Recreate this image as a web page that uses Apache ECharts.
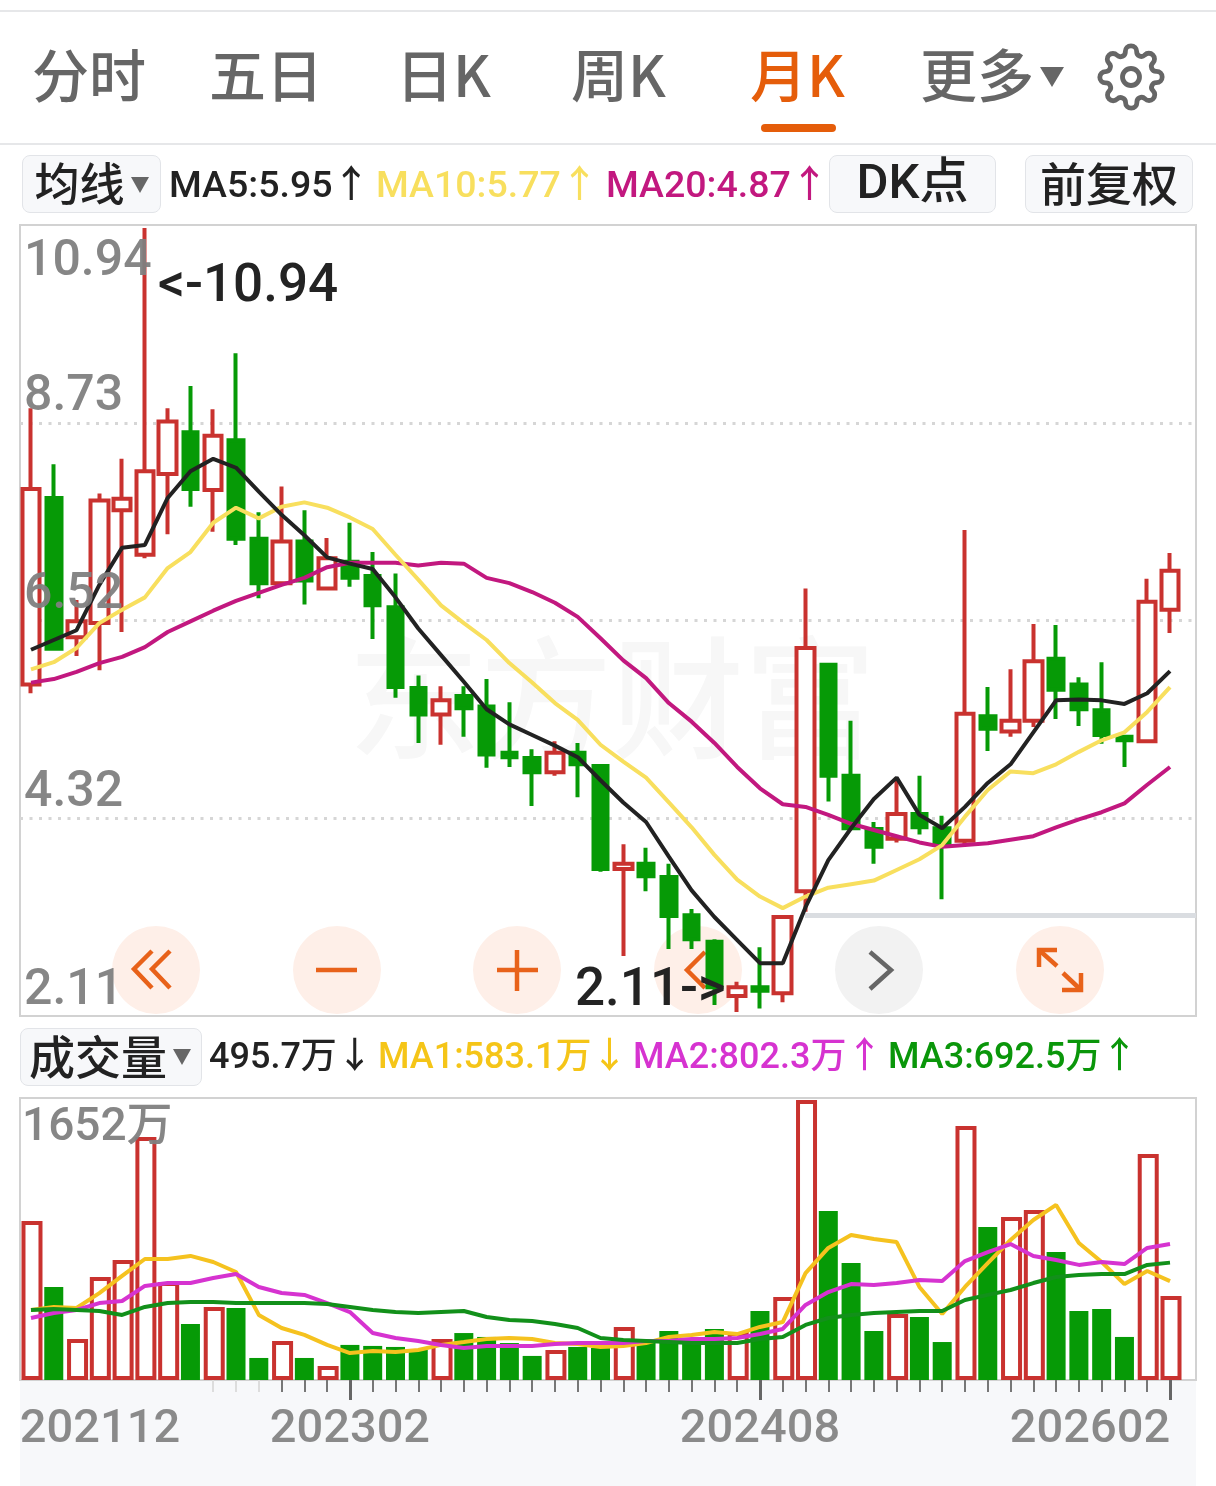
<!DOCTYPE html>
<html lang="zh">
<head>
<meta charset="utf-8">
<title>月K</title>
<script src="https://cdn.jsdelivr.net/npm/echarts@6/dist/echarts.min.js"></script>
<style>
html, body { margin: 0; padding: 0; background: #fff; }
#page { position: relative; width: 1216px; height: 1486px; overflow: hidden;
    font-family: Roboto, 'Noto Sans CJK SC', sans-serif; }
#chart { position: absolute; left: 0; top: 0; width: 1216px; height: 1486px; }
.strip { position: absolute; left: 20px; top: 1380px; width: 1176px; height: 106px; background: #f7f8fa; }
.rule { position: absolute; left: 0; width: 1216px; height: 2px; background: #e6e7e9; }
.tab { position: absolute; top: 36px; line-height: 72px; font-size: 57px; font-weight: 500; color: #666;
    font-family: 'Noto Sans CJK SC', sans-serif; white-space: nowrap; }
.tab.on { color: #e55d0a; }
.underline { position: absolute; left: 761px; top: 124px; width: 75px; height: 8px; border-radius: 4px; background: #e55d0a; }
.btn { position: absolute; box-sizing: border-box; background: #f7f8fa; border: 1px solid #e2e4e8; border-radius: 8px;
    color: #222; font-size: 45px; font-weight: 500; font-family: 'Noto Sans CJK SC', sans-serif;
    text-align: center; white-space: nowrap; }
.caret { position: absolute; width: 0; height: 0; border-left: 9px solid transparent; border-right: 9px solid transparent;
    border-top: 16px solid #666; }
.t { position: absolute; font-size: 37.5px; line-height: 44px; font-weight: 500; white-space: nowrap; }
.v { font-size: 36px; }
</style>
</head>
<body>
<div id="page">
    <div class="strip"></div>
    <div id="chart"></div>

    <div class="rule" style="top: 10px"></div>
    <div class="tab" style="left: 32px">分时</div>
    <div class="tab" style="left: 209px">五日</div>
    <div class="tab" style="left: 396px">日K</div>
    <div class="tab" style="left: 571px">周K</div>
    <div class="tab on" style="left: 750px">月K</div>
    <div class="tab" style="left: 920px">更多</div>
    <div class="caret" style="left: 1040px; top: 67px; border-left-width: 12px; border-right-width: 12px; border-top-width: 20px"></div>
    <svg style="position: absolute; left: 1097px; top: 43px" width="68" height="68" viewBox="0 0 24 24" fill="none" stroke="#666" stroke-width="1.7">
        <circle cx="12" cy="12" r="3"></circle>
        <path d="M19.4 15a1.65 1.65 0 0 0 .33 1.82l.06.06a2 2 0 0 1 0 2.83 2 2 0 0 1-2.83 0l-.06-.06a1.65 1.65 0 0 0-1.82-.33 1.65 1.65 0 0 0-1 1.51V21a2 2 0 0 1-2 2 2 2 0 0 1-2-2v-.09A1.65 1.65 0 0 0 9 19.4a1.65 1.65 0 0 0-1.82.33l-.06.06a2 2 0 0 1-2.83 0 2 2 0 0 1 0-2.83l.06-.06a1.65 1.65 0 0 0 .33-1.82 1.65 1.65 0 0 0-1.51-1H3a2 2 0 0 1-2-2 2 2 0 0 1 2-2h.09A1.65 1.65 0 0 0 4.6 9a1.65 1.65 0 0 0-.33-1.82l-.06-.06a2 2 0 0 1 0-2.83 2 2 0 0 1 2.83 0l.06.06a1.65 1.65 0 0 0 1.82.33H9a1.65 1.65 0 0 0 1-1.51V3a2 2 0 0 1 2-2 2 2 0 0 1 2 2v.09a1.65 1.65 0 0 0 1 1.51 1.65 1.65 0 0 0 1.82-.33l.06-.06a2 2 0 0 1 2.83 0 2 2 0 0 1 0 2.83l-.06.06a1.65 1.65 0 0 0-.33 1.82V9a1.65 1.65 0 0 0 1.51 1H21a2 2 0 0 1 2 2 2 2 0 0 1-2 2h-.09a1.65 1.65 0 0 0-1.51 1z"></path>
    </svg>
    <div class="underline"></div>
    <div class="rule" style="top: 143px"></div>

    <div class="btn" style="left: 22px; top: 155px; width: 139px; height: 58px; line-height: 51px; padding-right: 24px">均线</div>
    <div class="caret" style="left: 131px; top: 177px"></div>
    <div class="t" style="left: 169px; top: 162px; color: #222">MA5:5.95↑</div>
    <div class="t" style="left: 376px; top: 162px; color: #f8df5e">MA10:5.77↑</div>
    <div class="t" style="left: 606px; top: 162px; color: #c2187f">MA20:4.87↑</div>
    <div class="btn" style="left: 829px; top: 155px; width: 167px; height: 58px; line-height: 52px; font-size: 49px; font-family: Roboto, 'Noto Sans CJK SC'">DK点</div>
    <div class="btn" style="left: 1025px; top: 155px; width: 168px; height: 58px; line-height: 51px; font-size: 46px">前复权</div>

    <div class="btn" style="left: 20px; top: 1028px; width: 182px; height: 58px; line-height: 51px; padding-right: 26px; font-size: 46px">成交量</div>
    <div class="caret" style="left: 173px; top: 1049px"></div>
    <div class="t v" style="left: 209px; top: 1034px; color: #222">495.7万↓</div>
    <div class="t v" style="left: 378px; top: 1034px; color: #f5c518">MA1:583.1万↓</div>
    <div class="t v" style="left: 633px; top: 1034px; color: #d633d0">MA2:802.3万↑</div>
    <div class="t v" style="left: 888px; top: 1034px; color: #0a960a">MA3:692.5万↑</div>
</div>

<script>
const months = [
    '202112', '202201', '202202', '202203', '202204', '202205', '202206', '202207', '202208', '202209', '202210', '202211',
    '202212', '202301', '202302', '202303', '202304', '202305', '202306', '202307', '202308', '202309', '202310', '202311',
    '202312', '202401', '202402', '202403', '202404', '202405', '202406', '202407', '202408', '202409', '202410', '202411',
    '202412', '202501', '202502', '202503', '202504', '202505', '202506', '202507', '202508', '202509', '202510', '202511',
    '202512', '202601', '202602',
]
const monthLabels = ['202112', '202302', '202408', '202602']
const priceLabels = ['2.11', '4.32', '6.52', '8.73', '10.94']
const volumeLabel = '1652万'

const opens = [
    5.80, 7.90, 6.33, 6.49, 7.76, 7.26, 8.17, 8.64, 7.99, 8.55, 7.44, 6.94, 7.41, 6.88, 7.18, 7.02, 6.67,
    5.76, 5.46, 5.67, 5.55, 5.03, 4.97, 4.81, 5.03, 4.88, 3.72, 3.78, 3.63, 3.20, 2.90, 2.29, 2.39, 2.32,
    3.47, 6.02, 4.77, 4.17, 4.06, 4.34, 4.18, 4.04, 5.44, 5.27, 5.39, 6.09, 5.80, 5.51, 5.21, 5.16, 6.64,
]
const closes = [
    8.00, 6.20, 6.51, 7.87, 7.89, 8.20, 8.76, 8.00, 8.60, 7.44, 6.94, 7.41, 6.97, 7.22, 7.00, 6.69, 5.77,
    5.46, 5.62, 5.53, 5.01, 4.98, 4.81, 5.03, 4.90, 3.72, 3.78, 3.64, 3.19, 2.93, 2.39, 2.39, 2.35, 3.18,
    6.21, 4.77, 4.18, 3.97, 4.34, 4.19, 3.99, 5.47, 5.30, 5.39, 6.06, 5.74, 5.52, 5.23, 5.17, 6.73, 7.08,
]
const lows = [
    5.70, 6.20, 6.12, 5.96, 6.39, 7.22, 7.49, 7.80, 7.52, 7.37, 6.77, 6.94, 6.70, 6.86, 6.90, 6.31, 5.65,
    5.14, 5.12, 5.21, 4.86, 4.87, 4.43, 4.77, 4.53, 3.69, 2.74, 3.47, 2.82, 2.82, 2.19, 2.11, 2.15, 2.22,
    3.24, 4.48, 4.18, 3.78, 4.02, 4.11, 3.38, 3.99, 5.05, 5.21, 5.32, 5.41, 5.33, 5.13, 4.87, 5.16, 6.38,
]
const highs = [
    8.91, 8.28, 6.75, 7.95, 8.34, 10.94, 8.91, 9.16, 8.90, 9.53, 7.74, 8.03, 7.76, 7.45, 7.62, 7.29, 7.05,
    5.90, 5.78, 5.78, 5.86, 5.60, 5.07, 5.16, 5.14, 4.89, 4.00, 3.96, 3.78, 3.27, 2.93, 2.45, 2.84, 3.20,
    6.88, 6.02, 5.39, 4.25, 4.75, 4.77, 4.32, 7.54, 5.77, 5.97, 6.48, 6.47, 5.88, 6.05, 5.21, 6.99, 7.28,
]
const ma5 = [
    6.19, 6.30, 6.41, 6.92, 7.34, 7.37, 7.90, 8.20, 8.34, 8.24, 7.97, 7.71, 7.48, 7.23, 7.16, 7.10, 6.78,
    6.43, 6.13, 5.83, 5.52, 5.35, 5.23, 5.11, 4.98, 4.72, 4.47, 4.25, 3.86, 3.48, 3.18, 2.92, 2.66, 2.66,
    3.29, 3.82, 4.18, 4.51, 4.75, 4.33, 4.18, 4.42, 4.69, 4.90, 5.26, 5.62, 5.63, 5.62, 5.58, 5.70, 5.95,
]
const ma10 = [
    5.97, 6.05, 6.21, 6.49, 6.64, 6.78, 7.11, 7.29, 7.62, 7.79, 7.67, 7.80, 7.85, 7.79, 7.68, 7.55, 7.26,
    6.98, 6.69, 6.49, 6.30, 6.04, 5.82, 5.59, 5.40, 5.12, 4.93, 4.75, 4.47, 4.19, 3.88, 3.60, 3.41, 3.28,
    3.41, 3.51, 3.55, 3.59, 3.71, 3.83, 3.99, 4.31, 4.61, 4.82, 4.80, 4.90, 5.04, 5.17, 5.26, 5.49, 5.77,
]
const ma20 = [
    5.82, 5.86, 5.94, 6.04, 6.11, 6.22, 6.39, 6.51, 6.63, 6.74, 6.83, 6.92, 7.00, 7.12, 7.17, 7.17, 7.17,
    7.14, 7.17, 7.16, 7.00, 6.94, 6.84, 6.72, 6.56, 6.32, 6.07, 5.87, 5.59, 5.38, 5.14, 4.87, 4.63, 4.45,
    4.42, 4.33, 4.23, 4.16, 4.09, 4.02, 3.97, 3.99, 4.01, 4.05, 4.09, 4.19, 4.28, 4.36, 4.46, 4.67, 4.87,
]
const volumes = [
    938, 549, 242, 608, 708, 1434, 578, 330, 431, 425, 130, 230, 130, 83, 207, 201, 195,
    177, 242, 277, 254, 218, 142, 177, 195, 189, 313, 236, 289, 236, 301, 283, 407, 490,
    1652, 997, 690, 289, 389, 372, 224, 1499, 903, 962, 1003, 755, 407, 419, 254, 1333, 495.7,
]
const volMa1 = [
    413, 431, 425, 513, 614, 714, 714, 732, 696, 637, 384, 307, 266, 207, 159, 171, 165,
    177, 207, 224, 242, 248, 242, 218, 212, 195, 201, 218, 254, 266, 283, 271, 313, 342,
    631, 779, 856, 832, 814, 549, 389, 549, 690, 826, 944, 1033, 808, 696, 566, 643, 583.1,
]
const volMa2 = [
    366, 395, 413, 454, 466, 555, 572, 572, 602, 625, 549, 513, 502, 454, 401, 277, 248,
    230, 207, 189, 201, 201, 201, 212, 218, 218, 218, 230, 230, 242, 242, 248, 271, 301,
    443, 519, 566, 561, 572, 590, 584, 702, 755, 802, 732, 708, 679, 696, 684, 779, 802.3,
]
const volMa3 = [
    413, 419, 413, 407, 384, 431, 454, 460, 460, 454, 454, 454, 454, 448, 431, 413, 401,
    395, 401, 407, 372, 354, 348, 330, 307, 248, 236, 230, 224, 218, 218, 218, 242, 254,
    325, 366, 384, 395, 401, 407, 407, 472, 502, 531, 572, 608, 620, 625, 625, 679, 692.5,
]

const FONT = "Roboto, 'Noto Sans CJK SC', sans-serif"
const RED = '#c9322f'
const GREEN = '#069a06'
const ORANGE = '#e8621a'
const TICK_GREY = '#8a8a8a'

const isUp = (i) => closes[i] >= opens[i]
const candleData = (up) => months.map((_, i) => (isUp(i) === up ? [opens[i], closes[i], lows[i], highs[i]] : '-'))
const volumeData = (up) => volumes.map((v, i) => (isUp(i) === up ? v : '-'))

const lineSeries = (name, data, color, axis) => ({
    name,
    type: 'line',
    data,
    xAxisIndex: axis,
    yAxisIndex: axis === 1 ? 2 : 4,
    symbol: 'none',
    z: 5,
    lineStyle: { color, width: 4 },
})

// 隐藏的 x 轴，只用来把刻度画在 K 线中心
const tickAxis = (show, color, length, width) => ({
    type: 'category',
    gridIndex: 3,
    position: 'bottom',
    data: months,
    axisLine: { show: false },
    axisLabel: { show: false },
    axisTick: {
        show: true,
        alignWithLabel: true,
        interval: (index) => show(index),
        length,
        lineStyle: { color, width },
    },
})
const hasLabel = (i) => monthLabels.includes(months[i])
const isMajor = (i) => i > 0 && hasLabel(i)

const circle = (cx, color) => ({
    type: 'circle',
    z: 0,
    shape: { cx, cy: 970, r: 44 },
    style: { fill: color },
})
const stroke = (points, color) => ({
    type: 'polyline',
    z: 1,
    shape: { points },
    style: { stroke: color || ORANGE, lineWidth: 4.5, fill: null },
})
const note = (text, x, y) => ({
    type: 'text',
    z: 20,
    x,
    y,
    style: { text, fill: '#232323', font: '500 53px ' + FONT, textVerticalAlign: 'middle' },
})

const chart = echarts.init(document.getElementById('chart'))
chart.setOption({
    animation: false,
    backgroundColor: 'transparent',
    textStyle: { fontFamily: FONT },
    grid: [
        { left: 20, top: 225, width: 1176, height: 791, show: true, borderColor: '#d2d2d2', borderWidth: 2 },
        { left: 19.6, top: 225, width: 1161.8, height: 791 },
        { left: 20, top: 1098, width: 1176, height: 282, show: true, borderColor: '#d2d2d2', borderWidth: 2 },
        { left: 19.6, top: 1100, width: 1161.8, height: 280 },
    ],
    xAxis: [
        { type: 'value', gridIndex: 0, show: false },
        { type: 'category', gridIndex: 1, data: months, show: false },
        { type: 'value', gridIndex: 2, show: false },
        {
            type: 'category',
            gridIndex: 3,
            position: 'bottom',
            data: months,
            axisLine: { show: false },
            axisTick: {
                show: true,
                alignWithLabel: true,
                interval: (index) => index > 10 && !isMajor(index),
                length: 12,
                lineStyle: { color: '#777', width: 2 },
            },
            axisLabel: {
                interval: (index) => hasLabel(index),
                margin: 27,
                formatter: (value) => {
                    if (value === monthLabels[0]) return `{first|${value}}`
                    if (value === monthLabels[monthLabels.length - 1]) return `{last|${value}}`
                    return `{mid|${value}}`
                },
                rich: {
                    first: { fontSize: 47, fontWeight: 500, color: TICK_GREY, padding: [0, 0, 0, 138] },
                    mid: { fontSize: 47, fontWeight: 500, color: TICK_GREY },
                    last: { fontSize: 47, fontWeight: 500, color: TICK_GREY, padding: [0, 160, 0, 0] },
                },
            },
        },
        tickAxis(isMajor, '#666', 20, 3),
        tickAxis((i) => i >= 8 && i <= 10, '#ddd', 12, 2),
    ],
    yAxis: [
        // 外框上的四等分虚线
        {
            type: 'value',
            gridIndex: 0,
            position: 'left',
            min: 0,
            max: 4,
            interval: 1,
            axisLine: { show: false },
            axisTick: { show: false },
            axisLabel: { show: false },
            splitLine: {
                showMinLine: false,
                showMaxLine: false,
                lineStyle: { color: '#d6d6d6', width: 3, type: [3, 6.5] },
            },
        },
        // 价格标签，盖在 K 线上面
        {
            type: 'value',
            gridIndex: 0,
            position: 'left',
            min: 0,
            max: 4,
            interval: 1,
            z: 10,
            axisLine: { show: false },
            axisTick: { show: false },
            splitLine: { show: false },
            axisLabel: {
                inside: true,
                margin: 4,
                fontSize: 50,
                fontWeight: 500,
                color: 'rgba(128,128,128,0.95)',
                lineHeight: 50,
                verticalAlign: 'bottom',
                verticalAlignMaxLabel: 'top',
                formatter: (value) => (value === 4 ? `{top|${priceLabels[value]}}` : priceLabels[value]),
                rich: {
                    top: { fontSize: 50, fontWeight: 500, color: 'rgba(128,128,128,0.95)', lineHeight: 74 },
                },
            },
        },
        { type: 'value', gridIndex: 1, min: 2.065, max: 10.974, show: false },
        // 成交量最大值标签
        {
            type: 'value',
            gridIndex: 2,
            position: 'left',
            min: 0,
            max: 1,
            interval: 1,
            z: 10,
            axisLine: { show: false },
            axisTick: { show: false },
            splitLine: { show: false },
            axisLabel: {
                inside: true,
                margin: 2,
                fontSize: 46,
                fontWeight: 500,
                color: 'rgba(128,128,128,0.95)',
                lineHeight: 60,
                verticalAlignMaxLabel: 'top',
                formatter: (value) => (value === 1 ? volumeLabel : ''),
            },
        },
        { type: 'value', gridIndex: 3, min: 0, max: 1652, show: false },
    ],
    series: [
        {
            type: 'candlestick',
            xAxisIndex: 1,
            yAxisIndex: 2,
            barWidth: 18,
            data: candleData(true),
            itemStyle: { color: '#fff', color0: '#fff', borderColor: RED, borderColor0: RED, borderWidth: 4 },
        },
        {
            type: 'candlestick',
            xAxisIndex: 1,
            yAxisIndex: 2,
            barWidth: 15,
            data: candleData(false),
            itemStyle: { color: GREEN, color0: GREEN, borderColor: GREEN, borderColor0: GREEN, borderWidth: 4 },
        },
        lineSeries('MA20', ma20, '#c2187f', 1),
        lineSeries('MA10', ma10, '#f8df5e', 1),
        lineSeries('MA5', ma5, '#222', 1),
        {
            type: 'bar',
            xAxisIndex: 3,
            yAxisIndex: 4,
            barWidth: 21,
            barGap: '-100%',
            data: volumeData(true),
            itemStyle: { color: '#fff', borderColor: RED, borderWidth: 4 },
        },
        {
            type: 'bar',
            xAxisIndex: 3,
            yAxisIndex: 4,
            barWidth: 19,
            barGap: '-100%',
            data: volumeData(false),
            itemStyle: { color: GREEN },
        },
        lineSeries('MA1', volMa1, '#f5c21f', 3),
        lineSeries('MA2', volMa2, '#d633d0', 3),
        lineSeries('MA3', volMa3, '#12901a', 3),
    ],
    graphic: [
        {
            type: 'text',
            z: 0,
            x: 348,
            y: 632,
            style: { text: '东方财富', fill: '#f7f7f7', font: "500 132px 'Noto Sans CJK SC'" },
        },
        { type: 'rect', z: 0, shape: { x: 805, y: 913, width: 391, height: 5 }, style: { fill: '#dadde1' } },
        circle(156, '#feefe8'),
        circle(337, '#feefe8'),
        circle(517, '#feefe8'),
        circle(698, '#feefe8'),
        circle(879, '#f2f2f2'),
        circle(1060, '#feefe8'),
        stroke([[152, 951], [134, 969], [152, 988]]),
        stroke([[170, 951], [152, 969], [170, 988]]),
        stroke([[316, 970], [357, 970]]),
        stroke([[497, 970], [538, 970]]),
        stroke([[517, 950], [517, 991]]),
        stroke([[705, 952], [687, 970], [705, 988]]),
        stroke([[870, 952], [891, 970], [870, 989]], '#666'),
        stroke([[1057, 950], [1039, 950], [1039, 967]]),
        stroke([[1039, 950], [1057, 966]]),
        stroke([[1081, 973], [1081, 990], [1062, 990]]),
        stroke([[1081, 990], [1063, 973]]),
        note('<-10.94', 158, 288),
        note('2.11->', 575, 992),
    ],
})
</script>
</body>
</html>
